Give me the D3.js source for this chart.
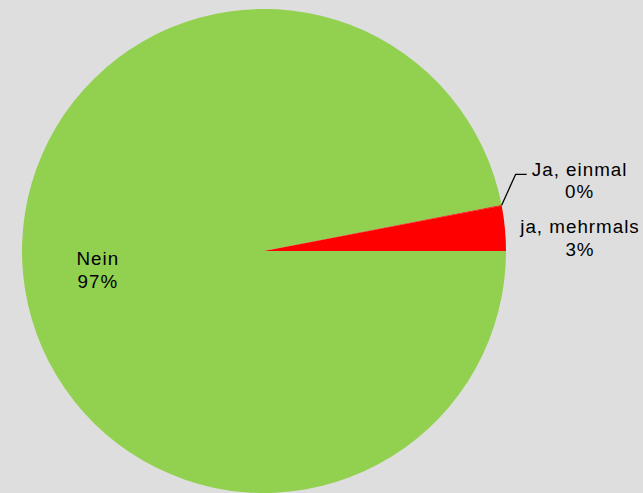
<!DOCTYPE html>
<meta charset="utf-8">
<style>
body { margin: 0; background: #dedede; }
text { font-family: "Liberation Sans", Arial, sans-serif; font-size: 18.8px; letter-spacing: 1px; fill: #000; }
</style>
<body>
<svg width="643" height="493"></svg>
<script src="https://cdn.jsdelivr.net/npm/d3@7"></script>
<script>

// Data
var categories = ["Nein", "Ja, einmal", "ja, mehrmals"];
var values = [96.95, 0.05, 3.0];
var labels = ["97%", "0%", "3%"];
var colors = ["#92d050", "#ff0000", "#ff0000"];

var svg = d3.select("svg"),
    cx = 264, cy = 251, radius = 242;

var g = svg.append("g")
    .attr("transform", "translate(" + cx + "," + cy + ")");

var data = categories.map(function(c, i) {
  return {name: c, value: values[i], label: labels[i], color: colors[i]};
});

// Excel first slice angle 90deg, clockwise
var pie = d3.pie()
    .sort(null)
    .value(function(d) { return d.value; })
    .startAngle(Math.PI / 2)
    .endAngle(Math.PI / 2 + 2 * Math.PI);

var arc = d3.arc().innerRadius(0).outerRadius(radius);
var labelArc = d3.arc().innerRadius(radius * 0.69).outerRadius(radius * 0.69);

var arcs = pie(data);

g.selectAll(".slice")
  .data(arcs)
  .enter().append("path")
    .attr("class", "slice")
    .attr("d", arc)
    .attr("fill", function(d) { return d.data.color; });

// Nein label inside the slice
var nein = arcs[0];
var pN = labelArc.centroid(nein);
var tN = g.append("text")
    .attr("text-anchor", "middle")
    .attr("transform", "translate(" + pN[0] + "," + pN[1] + ")");
tN.append("tspan").attr("x", 0).attr("y", -2).text(nein.data.name);
tN.append("tspan").attr("x", 0).attr("y", 21).text(nein.data.label);

// Ja, einmal: leader line from slice edge
var ein = arcs[1];
var a = (ein.startAngle + ein.endAngle) / 2;
var p0 = [Math.sin(a) * radius, -Math.cos(a) * radius];
var p1 = [p0[0] + 14, p0[1] - 31];
var p2 = [p1[0] + 11, p1[1]];
g.append("path")
    .attr("d", d3.line()([p0, p1, p2]))
    .attr("fill", "none")
    .attr("stroke", "#000")
    .attr("stroke-width", 1.3);
var tE = g.append("text")
    .attr("text-anchor", "middle")
    .attr("transform", "translate(" + (p2[0] + 53) + "," + (p2[1] + 2) + ")");
tE.append("tspan").attr("x", 0).attr("y", 0).text(ein.data.name);
tE.append("tspan").attr("x", 0).attr("y", 22).text(ein.data.label);

// ja, mehrmals label just outside the slice
var meh = arcs[2];
var tM = g.append("text")
    .attr("text-anchor", "middle")
    .attr("transform", "translate(" + (radius + 74) + "," + (-18) + ")");
tM.append("tspan").attr("x", 0).attr("y", 0).text(meh.data.name);
tM.append("tspan").attr("x", 0).attr("y", 23).text(meh.data.label);

</script>
